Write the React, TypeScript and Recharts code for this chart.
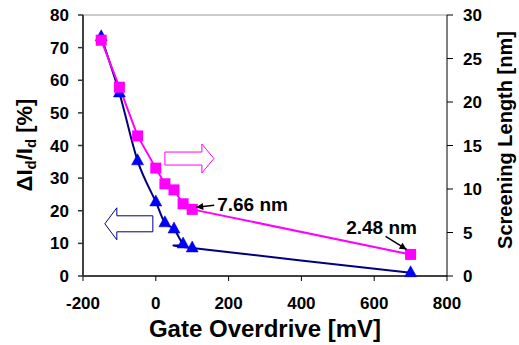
import React from 'react';
import { LineChart, Line, XAxis, YAxis, ReferenceDot, ReferenceLine } from 'recharts';

const gateOverdrive = [-150, -100, -50, 0, 25, 50, 75, 100, 700];
const deltaIdPct = [73.3, 56.1, 35.3, 22.7, 16.3, 14.4, 9.8, 8.6, 1.0];
const screeningNm = [27.1, 21.7, 16.1, 12.4, 10.6, 9.9, 8.3, 7.66, 2.48];
const xTicks = [-200, 0, 200, 400, 600, 800];
const leftTicks = [0, 10, 20, 30, 40, 50, 60, 70, 80];
const rightTicks = [0, 5, 10, 15, 20, 25, 30];

const data = gateOverdrive.map((g, i) => ({ g, d: deltaIdPct[i], s: screeningNm[i] }));

const FONT = 'Liberation Sans, Arial, sans-serif';

// Excel-like smoothed curve (Catmull-Rom Bezier)
const excelCurve = (context: any) => {
  let pts: number[][] = [];
  return {
    areaStart() {},
    areaEnd() {},
    lineStart() { pts = []; },
    point(x: number, y: number) { pts.push([+x, +y]); },
    lineEnd() {
      if (!pts.length) return;
      context.moveTo(pts[0][0], pts[0][1]);
      for (let i = 0; i < pts.length - 1; i++) {
        const p0 = pts[i - 1] || pts[i];
        const p1 = pts[i];
        const p2 = pts[i + 1];
        const p3 = pts[i + 2] || pts[i + 1];
        const c1x = p1[0] + (p2[0] - p0[0]) / 6;
        const c1y = p1[1] + (p2[1] - p0[1]) / 6;
        const c2x = p2[0] - (p3[0] - p1[0]) / 6;
        const c2y = p2[1] - (p3[1] - p1[1]) / 6;
        context.bezierCurveTo(c1x, c1y, c2x, c2y, p2[0], p2[1]);
      }
    },
  };
};

const XTick = (p: any) => {
  const { x, y, payload } = p;
  return (
    <text x={x} y={276 + 33} textAnchor="middle" fontFamily={FONT} fontSize={17} fontWeight={700} fill="#000">
      {payload.value}
    </text>
  );
};
const LTick = (p: any) => {
  const { y, payload } = p;
  return (
    <text x={69} y={y + 6} textAnchor="end" fontFamily={FONT} fontSize={17} fontWeight={700} fill="#000">
      {payload.value}
    </text>
  );
};
const RTick = (p: any) => {
  const { y, payload } = p;
  return (
    <text x={463} y={y + 6} textAnchor="start" fontFamily={FONT} fontSize={17} fontWeight={700} fill="#000">
      {payload.value}
    </text>
  );
};

const Triangle = (p: any) => {
  const { cx, cy } = p;
  if (cx == null || cy == null) return null;
  return <path d={`M${cx},${cy - 7} L${cx + 6},${cy + 4} L${cx - 6},${cy + 4} Z`} fill="#0000FF" stroke="#0000CC" strokeWidth={0.5} />;
};
const Square = (p: any) => {
  const { cx, cy } = p;
  if (cx == null || cy == null) return null;
  return <rect x={cx - 5.5} y={cy - 5.5} width={11} height={11} fill="#FF00FF" />;
};

const arrowHead = (x1: number, y1: number, x2: number, y2: number) => {
  const a = Math.atan2(y2 - y1, x2 - x1);
  const L = 7, W = 3.5;
  const bx = x2 - L * Math.cos(a), by = y2 - L * Math.sin(a);
  const px = -Math.sin(a) * W, py = Math.cos(a) * W;
  return `M${x2},${y2} L${bx + px},${by + py} L${bx - px},${by - py} Z`;
};

const Label766 = (p: any) => {
  const { cx, cy } = p;
  const x1 = cx + 22, y1 = cy - 4, x2 = cx + 4, y2 = cy - 2;
  return (
    <g>
      <line x1={x1} y1={y1} x2={x2} y2={y2} stroke="#000" strokeWidth={1.5} />
      <path d={arrowHead(x1, y1, x2, y2)} fill="#000" />
      <text x={cx + 25} y={cy + 2} fontFamily={FONT} fontSize={19} fontWeight={700} fill="#000">7.66 nm</text>
    </g>
  );
};
const Label248 = (p: any) => {
  const { cx, cy } = p;
  const x1 = cx - 25, y1 = cy - 18, x2 = cx - 4, y2 = cy - 5;
  return (
    <g>
      <line x1={x1} y1={y1} x2={x2} y2={y2} stroke="#000" strokeWidth={1.5} />
      <path d={arrowHead(x1, y1, x2, y2)} fill="#000" />
      <text x={cx - 29} y={cy - 20} textAnchor="middle" fontFamily={FONT} fontSize={19} fontWeight={700} fill="#000">2.48 nm</text>
    </g>
  );
};
const RightBlock = (p: any) => {
  const { cx, cy } = p;
  const x0 = cx, xb = cx + 37, xt = cx + 49;
  const d = `M${x0},${cy - 6.5} L${xb},${cy - 6.5} L${xb},${cy - 14.5} L${xt},${cy} L${xb},${cy + 14.5} L${xb},${cy + 6.5} L${x0},${cy + 6.5} Z`;
  return <path d={d} fill="#fff" stroke="#FF00FF" strokeWidth={1} />;
};
const LeftBlock = (p: any) => {
  const { cx, cy } = p;
  const xt = cx, xb = cx + 12, x1 = cx + 48;
  const d = `M${xt},${cy} L${xb},${cy - 16} L${xb},${cy - 8} L${x1},${cy - 8} L${x1},${cy + 8} L${xb},${cy + 8} L${xb},${cy + 16} Z`;
  return <path d={d} fill="#fff" stroke="#000080" strokeWidth={1} />;
};

const LeftTitle = () => {
  const x = 24, y = 145;
  return (
    <text x={x} y={y} transform={`rotate(-90 ${x} ${y})`} textAnchor="middle" dominantBaseline="central" fontFamily={FONT} fontSize={22} fontWeight={700} fill="#000">
      ΔI<tspan fontSize={15} dy={6}>d</tspan><tspan dy={-6}>/I</tspan><tspan fontSize={15} dy={6}>d</tspan><tspan dy={-6}> [%]</tspan>
    </text>
  );
};
const RightTitle = () => {
  const x = 505, y = 140;
  return (
    <text x={x} y={y} transform={`rotate(-90 ${x} ${y})`} textAnchor="middle" dominantBaseline="central" fontFamily={FONT} fontSize={20} fontWeight={700} fill="#000">
      Screening Length [nm]
    </text>
  );
};
const XTitle = () => (
  <text x={265} y={337} textAnchor="middle" fontFamily={FONT} fontSize={24} fontWeight={700} fill="#000">Gate Overdrive [mV]</text>
);

export default function App() {
  return (
    <div style={{ position: 'absolute', left: 0, top: 0, background: '#fff' }}>
      <LineChart width={519} height={345} data={data} margin={{ top: 15, right: 0, left: 0, bottom: 0 }}>
        <XAxis dataKey="g" type="number" domain={[-200, 800]} ticks={xTicks} height={69}
          tick={<XTick />} tickSize={5} tickLine={{ stroke: '#000', strokeWidth: 1 }}
          axisLine={{ stroke: '#000', strokeWidth: 1.5 }} label={<XTitle />} />
        <YAxis yAxisId="l" domain={[0, 80]} ticks={leftTicks} width={83} tick={<LTick />} tickSize={5}
          tickLine={{ stroke: '#333', strokeWidth: 1.5 }} axisLine={{ stroke: '#404040', strokeWidth: 2 }} label={<LeftTitle />} />
        <YAxis yAxisId="r" orientation="right" domain={[0, 30]} ticks={rightTicks} width={72} tick={<RTick />} tickSize={6}
          tickLine={{ stroke: '#000', strokeWidth: 1 }} axisLine={{ stroke: '#000', strokeWidth: 1 }} label={<RightTitle />} />
        <ReferenceLine yAxisId="l" y={80} stroke="#999" strokeWidth={1} />
        <ReferenceDot yAxisId="r" x={25} y={13.5} shape={<RightBlock />} ifOverflow="visible" />
        <ReferenceDot yAxisId="l" x={-140} y={16} shape={<LeftBlock />} ifOverflow="visible" />
        <Line yAxisId="l" dataKey="d" type={excelCurve as any} stroke="#000080" strokeWidth={2} dot={<Triangle />} isAnimationActive={false} />
        <Line yAxisId="r" dataKey="s" type="linear" stroke="#FF00FF" strokeWidth={2} dot={<Square />} isAnimationActive={false} />
        <ReferenceDot yAxisId="r" x={100} y={7.66} shape={<Label766 />} ifOverflow="visible" />
        <ReferenceDot yAxisId="r" x={700} y={2.48} shape={<Label248 />} ifOverflow="visible" />
      </LineChart>
    </div>
  );
}
